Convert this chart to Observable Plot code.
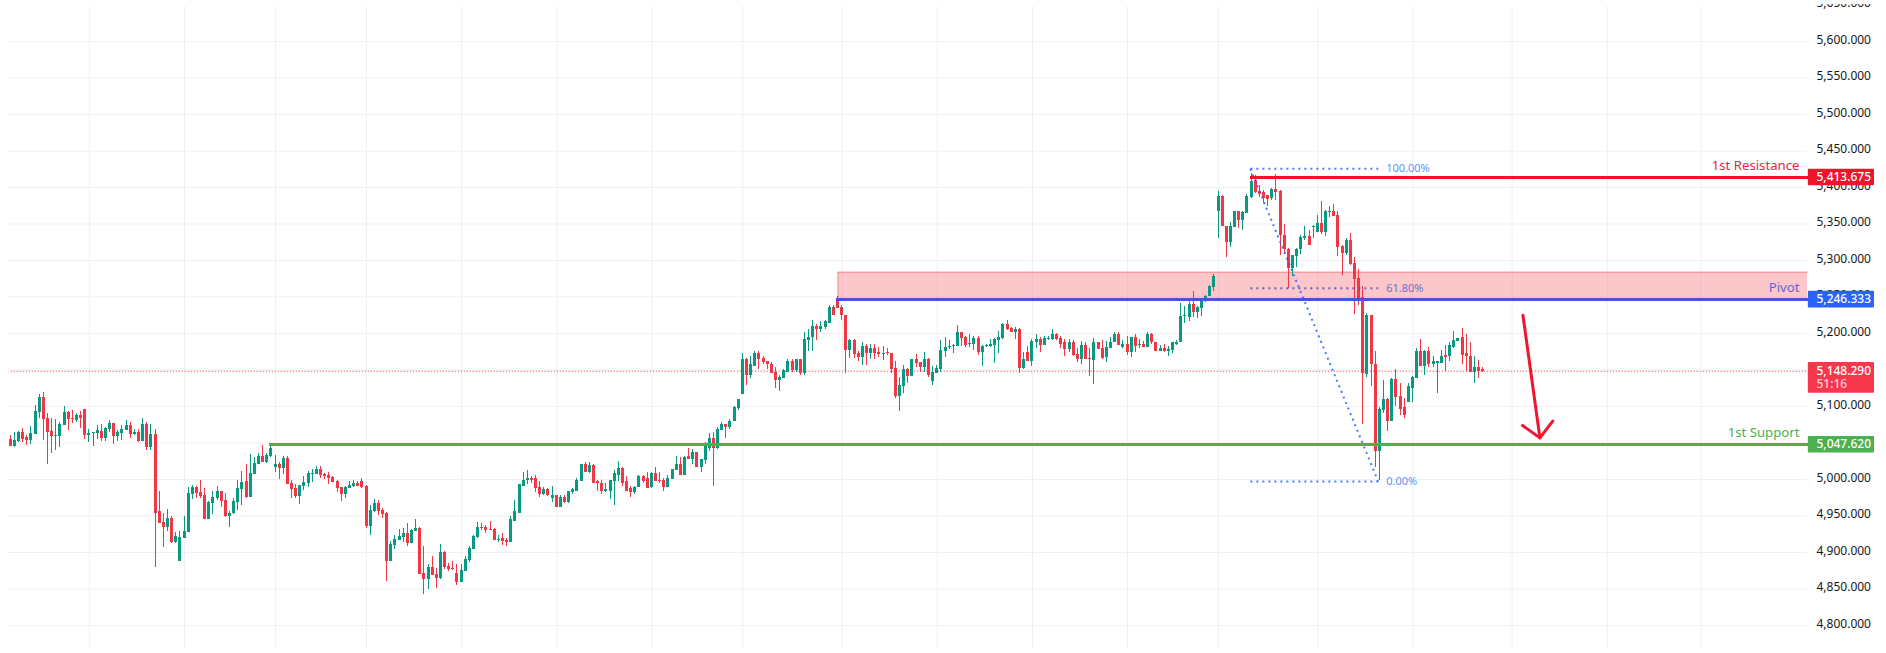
<!DOCTYPE html>
<html>
<head>
<meta charset="utf-8">
<script src="https://cdn.jsdelivr.net/npm/d3@7"></script>
<script src="https://cdn.jsdelivr.net/npm/@observablehq/plot@0.6"></script>
<style>
html,body{margin:0;padding:0;background:#fff;overflow:hidden}
#wrap{position:relative;width:1886px;height:653px}
#mask{position:absolute;left:0;top:0;width:1886px;height:4px;background:#fff}
svg{display:block}
</style>
</head>
<body>
<div id="wrap"><div id="chart"></div><div id="mask"></div></div>
<script>
// candles: [open, high, low, close]
const legA = [[5055,5060,5045,5045],[5045,5064,5044,5053],[5052,5066,5051,5064],[5064,5070,5050,5055],[5057,5060,5047,5053],[5053,5073,5048,5063],[5062,5101,5062,5093],[5092,5116,5084,5112],[5112,5119,5053,5082],[5084,5090,5021,5064],[5066,5084,5036,5059],[5059,5082,5040,5060],[5059,5078,5044,5075],[5074,5100,5074,5092],[5092,5093,5067,5082],[5084,5095,5077,5082],[5081,5090,5078,5088],[5088,5093,5070,5084],[5096,5096,5055,5060],[5060,5068,5051,5063],[5063,5064,5045,5064],[5063,5074,5055,5067],[5066,5075,5052,5056],[5056,5071,5052,5070],[5069,5081,5064,5077],[5077,5077,5048,5059],[5059,5067,5052,5064],[5063,5074,5053,5068],[5067,5081,5067,5074],[5074,5078,5056,5062],[5062,5068,5060,5064],[5064,5068,5051,5052],[5052,5084,5052,5075],[5075,5078,5040,5044],[5044,5075,5040,5062],[5062,5068,4879,4953],[4956,4984,4940,4940],[4941,4953,4907,4934],[4934,4959,4929,4947],[4947,4949,4912,4914],[4914,4927,4912,4922],[4888,4929,4888,4921],[4919,4949,4919,4929],[4927,4989,4927,4981],[4979,4992,4973,4989],[4989,4990,4974,4981],[4982,4999,4974,4977],[4978,4988,4945,4945],[4945,4970,4945,4968],[4967,4984,4952,4975],[4974,4990,4971,4984],[4984,4984,4962,4970],[4971,4981,4948,4949],[4949,4956,4934,4953],[4953,4974,4952,4970],[4968,4999,4957,4988],[4986,5011,4964,4996],[4997,5021,4974,4975],[4975,5034,4975,5008],[5007,5030,5007,5022]];
const legB = [[5021,5036,5021,5032],[5032,5047,5023,5023],[5023,5036,5022,5033],[5032,5047,5030,5042],[5016,5033,5010,5021],[5021,5023,5000,5015],[5015,5032,5007,5029],[5029,5032,4993,4993],[4994,4999,4974,4986],[4988,4993,4974,4977],[4977,4992,4966,4992],[4990,5004,4985,4996],[4994,5011,4989,5008],[5007,5014,4996,5008],[5007,5018,5007,5014],[5014,5018,5001,5005],[5007,5008,5000,5004],[5005,5010,4993,5001],[5003,5004,4996,4996],[4997,4999,4982,4988],[4989,4989,4970,4979],[4979,4990,4974,4989],[4988,4997,4988,4992],[4990,4999,4989,4994],[4994,4997,4990,4990],[4997,5001,4988,4989],[4990,4992,4933,4936],[4936,4964,4923,4958],[4956,4973,4955,4967],[4967,4971,4951,4956],[4958,4960,4947,4952],[4953,4955,4860,4888],[4888,4915,4888,4911],[4910,4923,4904,4918],[4916,4931,4916,4922],[4921,4933,4914,4926],[4926,4940,4908,4912],[4912,4931,4912,4930],[4929,4945,4929,4933],[4933,4934,4870,4870],[4871,4908,4842,4863],[4863,4884,4849,4879],[4879,4895,4868,4868],[4870,4878,4851,4864],[4864,4911,4863,4900],[4900,4901,4877,4879],[4881,4885,4874,4877],[4878,4888,4875,4877],[4871,4884,4855,4859],[4859,4884,4859,4875],[4874,4895,4874,4890],[4889,4908,4886,4905],[4904,4923,4904,4922],[4921,4941,4919,4934],[4934,4940,4930,4933],[4934,4937,4926,4930],[4931,4942,4930,4930],[4931,4933,4916,4916],[4916,4923,4914,4918]];
const legC = [[4919,4926,4910,4915],[4916,4919,4908,4913],[4913,4949,4913,4945],[4943,4971,4943,4956],[4954,4993,4954,4993],[4991,5010,4991,4999],[4998,5012,4993,5002],[5002,5004,4995,4999],[5001,5005,4982,4987],[4989,4997,4976,4980],[4980,4989,4978,4986],[4986,4987,4977,4978],[4974,4990,4968,4978],[4978,4978,4961,4961],[4961,4978,4961,4975],[4975,4978,4967,4968],[4968,4984,4967,4983],[4982,4987,4979,4986],[4984,5001,4984,4998],[4997,5021,4997,5020],[5020,5023,5010,5010],[5010,5023,5008,5019],[5019,5020,4994,4995],[4997,4998,4983,4994],[4995,4998,4979,4984],[4984,4994,4982,4986],[4984,4999,4972,4998],[4997,5012,4965,5008],[5006,5024,4997,5015],[5015,5016,4991,4995],[4997,5004,4984,4984],[4987,4991,4976,4982],[4982,4991,4980,4989],[4989,5005,4989,5004],[5004,5005,4994,4997],[5002,5009,4987,4987],[4989,5009,4987,5008],[5008,5016,4997,4997],[4998,5009,4994,4997],[4998,5001,4983,4989],[4989,5005,4989,5001],[5000,5013,5000,5013],[5012,5031,5012,5021],[5021,5030,5006,5006],[5006,5032,5006,5030],[5031,5043,5027,5027],[5028,5041,5021,5037],[5037,5037,5017,5017],[5017,5028,5009,5027],[5026,5050,5020,5045],[5043,5063,5039,5056],[5056,5065,4991,5043],[5042,5071,5041,5068],[5067,5078,5067,5075],[5075,5076,5056,5071],[5071,5082,5069,5080],[5079,5100,5079,5098],[5097,5110,5095,5109]];
const legD = [[5117,5172,5117,5165],[5165,5166,5129,5143],[5143,5168,5139,5157],[5155,5175,5155,5173],[5173,5175,5151,5165],[5166,5169,5157,5160],[5161,5161,5151,5157],[5158,5160,5145,5145],[5146,5154,5125,5135],[5135,5142,5121,5140],[5139,5150,5139,5149],[5147,5164,5147,5162],[5162,5164,5146,5149],[5149,5165,5146,5164],[5164,5165,5143,5145],[5145,5201,5142,5192],[5191,5205,5176,5195],[5194,5218,5176,5210],[5210,5213,5191,5206],[5206,5216,5201,5209],[5208,5218,5206,5216],[5214,5238,5214,5236],[5236,5238,5225,5225],[5246,5251,5234,5234],[5236,5239,5218,5224],[5225,5225,5145,5177],[5177,5192,5166,5191],[5191,5192,5166,5171],[5173,5176,5162,5167],[5167,5187,5156,5182],[5182,5185,5156,5173],[5173,5185,5165,5180],[5180,5185,5165,5173],[5174,5181,5167,5171],[5171,5182,5163,5173],[5174,5180,5170,5173],[5173,5173,5145,5150],[5152,5162,5111,5114],[5114,5140,5093,5129],[5128,5156,5118,5151],[5151,5152,5132,5141],[5141,5165,5141,5165],[5165,5171,5154,5159],[5160,5160,5147,5154],[5154,5174,5147,5165],[5165,5166,5140,5143],[5134,5155,5129,5147],[5145,5156,5145,5152]];
const legE = [[5151,5191,5147,5177],[5176,5195,5167,5181],[5181,5191,5178,5182],[5182,5185,5173,5184],[5182,5211,5182,5202],[5202,5202,5182,5193],[5195,5196,5181,5184],[5185,5198,5181,5186],[5185,5196,5177,5193],[5193,5196,5170,5174],[5174,5184,5155,5182],[5182,5185,5181,5184],[5182,5192,5181,5185],[5184,5193,5159,5192],[5191,5203,5173,5195],[5193,5214,5192,5213],[5213,5218,5204,5206],[5207,5208,5202,5202],[5202,5208,5192,5206],[5206,5207,5145,5152],[5152,5174,5151,5165],[5174,5182,5162,5162],[5162,5192,5155,5189],[5188,5199,5180,5192],[5192,5195,5174,5184],[5184,5196,5184,5193],[5192,5196,5191,5193],[5192,5206,5191,5199],[5199,5200,5191,5192],[5193,5196,5180,5185],[5187,5192,5169,5178],[5178,5192,5174,5187],[5187,5191,5169,5170],[5171,5180,5160,5165],[5165,5189,5158,5184],[5184,5187,5165,5165],[5166,5180,5141,5165],[5163,5193,5130,5187],[5187,5188,5178,5178],[5180,5191,5165,5166],[5167,5189,5160,5181],[5180,5195,5180,5188],[5187,5202,5187,5198],[5198,5202,5184,5184],[5181,5191,5180,5185],[5185,5196,5170,5174],[5174,5195,5167,5195],[5195,5199,5174,5182],[5184,5192,5180,5185],[5185,5189,5181,5181],[5181,5202,5181,5199],[5199,5200,5185,5187],[5187,5187,5176,5176],[5176,5184,5176,5180],[5180,5185,5174,5176],[5176,5182,5169,5178],[5177,5187,5173,5187],[5185,5191,5184,5188],[5187,5241,5187,5223],[5224,5237,5214,5225],[5222,5247,5217,5240],[5240,5258,5222,5229],[5229,5237,5221,5236],[5234,5247,5223,5245],[5244,5252,5243,5251],[5250,5266,5250,5265],[5263,5281,5258,5278]];
const legF = [[5367,5394,5330,5388],[5388,5389,5347,5347],[5347,5347,5304,5325],[5325,5352,5318,5347],[5345,5367,5345,5367],[5367,5367,5344,5355],[5355,5367,5341,5366],[5364,5390,5364,5388],[5386,5419,5385,5408],[5410,5416,5392,5393],[5395,5403,5386,5390],[5393,5396,5378,5385],[5389,5389,5374,5384],[5385,5399,5382,5397],[5397,5418,5382,5393],[5395,5396,5307,5334],[5334,5349,5308,5315],[5315,5316,5262,5289],[5289,5307,5278,5307],[5305,5316,5290,5315],[5315,5334,5308,5331],[5330,5347,5327,5333],[5333,5341,5321,5321],[5345,5348,5330,5347],[5338,5362,5338,5351],[5351,5381,5336,5338],[5338,5369,5333,5367],[5366,5374,5359,5367],[5367,5377,5360,5360],[5362,5367,5305,5318],[5319,5320,5279,5310],[5310,5330,5307,5327],[5327,5337,5293,5294],[5296,5304,5226,5274],[5275,5288,5238,5248],[5249,5264,5075,5145]];
const legG = [[5144,5228,5140,5225],[5225,5225,5128,5157],[5158,5176,5017,5039],[5039,5098,4999,5096],[5095,5136,5091,5109],[5109,5111,5066,5079],[5079,5139,5079,5137],[5137,5150,5100,5113],[5114,5132,5088,5096],[5098,5111,5084,5088],[5106,5131,5106,5127],[5125,5141,5106,5140],[5139,5180,5139,5176],[5176,5192,5155,5155],[5155,5177,5142,5176],[5176,5181,5153,5157],[5157,5169,5153,5161],[5159,5161,5118,5161],[5159,5177,5159,5169],[5169,5183,5148,5168],[5168,5187,5161,5183],[5181,5203,5180,5191],[5189,5193,5189,5193],[5194,5207,5157,5170],[5172,5198,5148,5168],[5169,5187,5147,5147],[5146,5168,5132,5153],[5153,5163,5139,5148],[5151,5154,5146,5148]];

const priceTicks = [4800,4850,4900,4950,5000,5050,5100,5150,5200,5250,5300,5350,5400,5450,5500,5550,5600,5650];
const gridPrices = priceTicks.slice(0, -1);
const gridBars = [19,42,64,86,109,132,155,177,201,224,247,270,292,316,339,363,386,408.6];

const resistance = 5413.675, pivot = 5246.333, support = 5047.62, lastPrice = 5148.29;
const zoneTop = 5284, zoneBottom = 5245, zoneStart = 200;
const fibStart = 299.7, fibEnd = 330.6;
const fibHigh = 5425.6, fib618 = 5262, fibLow = 4997.3;
const arrowShaft = [[365.6,5225],[369.7,5057]];
const arrowHead = [[365.5,5074],[369.7,5057],[372.8,5080]];

const barLeft = -0.556, barRight = 434.4, boxRight = 450.6;
const candles = [...legA,...legB,...legC,...legD,...legE,...legF,...legG].map(([o,h,l,c],i)=>{
  const top = Math.max(o,c), bot = Math.min(o,c), pad = top-bot<1.5 ? (1.5-(top-bot))/2 : 0;
  return {i,o,h,l,c,top:top+pad,bot:bot-pad};
});
const up = candles.filter(d=>d.c>=d.o), down = candles.filter(d=>d.c<d.o);
const GREEN="#089981", RED="#f23645", BLUE="#2962ff", FONT="'Noto Sans', sans-serif";
const fmt = d3.format(",.3f");

const candleMarks = (rows,color)=>[
  Plot.ruleX(rows,{x:"i",y1:"l",y2:"h",stroke:color,strokeWidth:1,shapeRendering:"crispEdges",dx:-0.5}),
  Plot.ruleX(rows,{x:"i",y1:"bot",y2:"top",stroke:color,strokeWidth:3,shapeRendering:"crispEdges",dx:-0.5})
];
const seg = (pts,o)=>Plot.line(pts,{x:d=>d[0],y:d=>d[1],...o});
const hline = (x1,y,o)=>Plot.line([[x1,y],[barRight,y]],{x:d=>d[0],y:d=>d[1],...o});
const thick = {strokeWidth:3,strokeLinecap:"butt",shapeRendering:"crispEdges"};
const dotted = {stroke:BLUE,strokeWidth:2,strokeOpacity:.85,strokeDasharray:"2 4",strokeLinecap:"butt"};
const box = (y1,y2,fill)=>Plot.rect([0],{x1:barRight+.2,x2:boxRight,y1,y2,fill,rx:1});
const lineLabel = (y,text,fill,dy)=>Plot.text([text],{text:d=>d,frameAnchor:"right",y:()=>y,dx:-8,dy,textAnchor:"end",fill,fontSize:13.2,fontFamily:FONT});
const boxLabel = (y,fill="#fff",dy=-0.5,text=fmt(y))=>Plot.text([text],{text:d=>d,frameAnchor:"right",y:()=>y,dx:9,dy,textAnchor:"start",fill,fontSize:12,fontWeight:500,fontFamily:FONT});
const fibLabel = (y,text,fill)=>Plot.text([text],{text:d=>d,x:()=>fibEnd,y:()=>y,dx:8,textAnchor:"start",fill,fontSize:11,fontFamily:FONT});

const chart = Plot.plot({
  width:1886,height:653,marginLeft:8,marginRight:79,marginTop:0,marginBottom:0,
  style:{background:"#fff",fontFamily:FONT,fontSize:"12px",overflow:"hidden"},
  x:{domain:[barLeft,barRight],axis:null},
  y:{domain:[4761.6,5656.2],axis:null},
  marks:[
    Plot.gridY(gridPrices,{stroke:"#f0f0f2",strokeOpacity:1}),
    Plot.gridX(gridBars,{stroke:"#f0f0f2",strokeOpacity:1,insetTop:6,insetBottom:4}),
    Plot.rect([0],{x1:zoneStart,x2:barRight,y1:zoneBottom,y2:zoneTop,fill:RED,fillOpacity:.28}),
    seg([[zoneStart,zoneBottom],[zoneStart,zoneTop],[barRight,zoneTop]],{stroke:RED,strokeOpacity:.45,strokeWidth:1}),
    hline(0,lastPrice,{stroke:RED,strokeWidth:1,strokeDasharray:"1 2",strokeLinecap:"butt"}),
    ...candleMarks(up,GREEN),
    ...candleMarks(down,RED),
    seg([[fibStart,fibHigh],[fibEnd,fibLow]],dotted),
    seg([[fibStart,fibHigh],[fibEnd,fibHigh]],dotted),
    seg([[fibStart,fib618],[fibEnd,fib618]],{...dotted,stroke:"#4a50c8"}),
    seg([[fibStart,fibLow],[fibEnd,fibLow]],dotted),
    hline(62.5,support,{stroke:"#4caf50",...thick}),
    hline(199.5,pivot,{stroke:"#4b52da",...thick}),
    hline(299.7,resistance,{stroke:"#ec1529",...thick}),
    seg(arrowShaft,{stroke:"#f0142f",strokeWidth:3}),
    seg(arrowHead,{stroke:"#f0142f",strokeWidth:3}),
    fibLabel(fibHigh,"100.00%","#5d94f5"),
    fibLabel(fib618,"61.80%","#7070cc"),
    fibLabel(fibLow,"0.00%","#5d94f5"),
    lineLabel(resistance,"1st Resistance","#f0213f",-11.5),
    lineLabel(pivot,"Pivot","#6464d0",-12),
    lineLabel(support,"1st Support","#4caf50",-12),
    Plot.axisY(priceTicks,{anchor:"right",tickSize:0,tickPadding:9,tickFormat:d=>fmt(d),label:null,fontSize:12,fontFamily:FONT,color:"#131722",dy:-1.5}),
    box(resistance-11.4,resistance+11.4,"#ec1529"),
    box(pivot-11.4,pivot+11.4,BLUE),
    box(support-11.4,support+11.4,"#4caf50"),
    box(5118.2,5160.3,"#f7374e"),
    boxLabel(resistance),
    boxLabel(pivot),
    boxLabel(support),
    boxLabel(lastPrice),
    boxLabel(lastPrice,"#ffd0d6",13,"51:16")
  ]
});
document.getElementById("chart").appendChild(chart);
</script>
</body>
</html>
